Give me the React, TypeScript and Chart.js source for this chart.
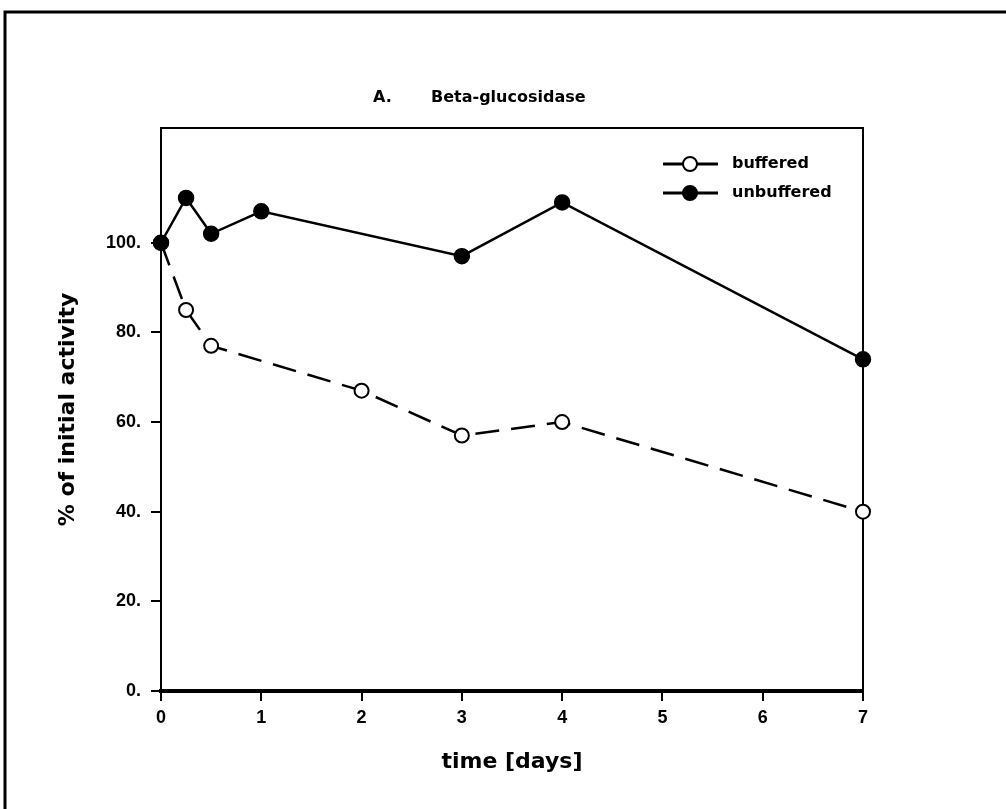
import React, { useEffect, useRef } from "react";
import { Chart, registerables } from "chart.js";

Chart.register(...registerables);

// ---- data ----
const unbufferedDays = [0, 0.25, 0.5, 1, 3, 4, 7];
const unbufferedActivity = [100, 110, 102, 107, 97, 109, 74];
const bufferedDays = [0, 0.25, 0.5, 2, 3, 4, 7];
const bufferedActivity = [100, 85, 77, 67, 57, 60, 40];
const yTicks = [0, 20, 40, 60, 80, 100];
const xMin = 0;
const xMax = 7;
const yMin = 0;
const yMax = 125.6;

const titlePrefix = "A.";
const titleText = "Beta-glucosidase";
const xTitle = "time [days]";
const yTitle = "% of initial activity";
const unbufferedLabel = "unbuffered";
const bufferedLabel = "buffered";

const TICK_FONT = { family: "'Liberation Sans', Arial, sans-serif", size: 18, weight: "bold" as const };
const TEXT_FONT = "'DejaVu Sans', sans-serif";

const decorPlugin = {
  id: "decor",
  beforeDatasetsDraw(chart: any) {
    const { ctx, chartArea: a } = chart;
    ctx.save();
    ctx.strokeStyle = "#000";
    ctx.lineWidth = 2;
    ctx.beginPath();
    ctx.moveTo(a.left, a.top);
    ctx.lineTo(a.right, a.top);
    ctx.lineTo(a.right, a.bottom);
    ctx.stroke();
    ctx.restore();
  },
  afterDraw(chart: any) {
    const { ctx, chartArea: a, width, height } = chart;
    ctx.save();
    ctx.strokeStyle = "#000";
    ctx.fillStyle = "#000";
    // outer scanned frame
    ctx.lineWidth = 3;
    ctx.beginPath();
    ctx.moveTo(5, height);
    ctx.lineTo(5, 12);
    ctx.lineTo(width, 12);
    ctx.stroke();

    // title
    ctx.textBaseline = "middle";
    ctx.textAlign = "left";
    ctx.font = `bold 16px ${TEXT_FONT}`;
    ctx.fillText(titlePrefix, a.left + 212, 98);
    ctx.fillText(titleText, a.left + 270, 98);

    // y title
    ctx.save();
    ctx.translate(68, (a.top + a.bottom) / 2);
    ctx.rotate(-Math.PI / 2);
    ctx.textAlign = "center";
    ctx.font = `bold 22px ${TEXT_FONT}`;
    ctx.fillText(yTitle, 0, 0);
    ctx.restore();

    // x title
    ctx.textAlign = "center";
    ctx.font = `bold 22px ${TEXT_FONT}`;
    ctx.fillText(xTitle, (a.left + a.right) / 2, a.bottom + 71);

    // legend (inside plot area)
    const order = [1, 0];
    order.forEach((dsIndex, k) => {
      const ds = chart.data.datasets[dsIndex];
      const y = a.top + 36 + k * 29;
      const x0 = a.right - 200;
      const x1 = a.right - 145;
      const cx = a.right - 173;
      ctx.lineWidth = 3;
      ctx.setLineDash([]);
      ctx.beginPath();
      ctx.moveTo(x0, y);
      ctx.lineTo(x1, y);
      ctx.stroke();
      ctx.beginPath();
      ctx.arc(cx, y, 7, 0, Math.PI * 2);
      ctx.fillStyle = ds.pointBackgroundColor;
      ctx.fill();
      ctx.lineWidth = 2;
      ctx.stroke();
      ctx.fillStyle = "#000";
      ctx.textAlign = "left";
      ctx.font = `bold 16px ${TEXT_FONT}`;
      ctx.fillText(ds.label, a.right - 131, y);
    });
    ctx.restore();
  },
};

export default function App() {
  const canvasRef = useRef<HTMLCanvasElement | null>(null);

  useEffect(() => {
    if (!canvasRef.current) return;
    const chart = new Chart(canvasRef.current, {
      type: "line",
      data: {
        datasets: [
          {
            label: unbufferedLabel,
            data: unbufferedDays.map((d, i) => ({ x: d, y: unbufferedActivity[i] })),
            borderColor: "#000",
            borderWidth: 2.5,
            pointRadius: 7.5,
            pointBorderWidth: 1.5,
            pointBackgroundColor: "#000",
            pointBorderColor: "#000",
            tension: 0,
            clip: false as any,
          },
          {
            label: bufferedLabel,
            data: bufferedDays.map((d, i) => ({ x: d, y: bufferedActivity[i] })),
            borderColor: "#000",
            borderWidth: 2.5,
            borderDash: [24, 12],
            pointRadius: 7,
            pointBorderWidth: 2,
            pointBackgroundColor: "#fff",
            pointBorderColor: "#000",
            tension: 0,
            clip: false as any,
          },
        ],
      },
      options: {
        responsive: false,
        animation: false,
        devicePixelRatio: 1,
        layout: { padding: { left: 0, top: 128, right: 143, bottom: 0 } },
        plugins: {
          legend: { display: false },
          title: { display: false },
          tooltip: { enabled: false },
        },
        scales: {
          x: {
            type: "linear",
            min: xMin,
            max: xMax,
            afterFit: (s: any) => {
              s.height = 118;
            },
            ticks: {
              stepSize: 1,
              color: "#000",
              font: TICK_FONT,
              padding: 6,
              maxRotation: 0,
            },
            grid: {
              display: true,
              drawOnChartArea: false,
              drawTicks: true,
              tickLength: 10,
              color: "#000",
              lineWidth: 2,
            },
            border: { display: true, color: "#000", width: 4 },
          },
          y: {
            type: "linear",
            min: yMin,
            max: yMax,
            afterFit: (s: any) => {
              s.width = 161;
            },
            afterBuildTicks: (s: any) => {
              s.ticks = yTicks.map((v) => ({ value: v }));
            },
            ticks: {
              color: "#000",
              font: TICK_FONT,
              padding: 10,
              callback: (v: any) => `${v}.`,
            },
            grid: {
              display: true,
              drawOnChartArea: false,
              drawTicks: true,
              tickLength: 10,
              color: "#000",
              lineWidth: 2,
            },
            border: { display: true, color: "#000", width: 2 },
          },
        },
      },
      plugins: [decorPlugin],
    });
    return () => chart.destroy();
  }, []);

  return (
    <div
      style={{
        position: "fixed",
        left: 0,
        top: 0,
        width: 1006,
        height: 809,
        background: "#fff",
      }}
    >
      <canvas ref={canvasRef} width={1006} height={809} style={{ display: "block" }} />
    </div>
  );
}
